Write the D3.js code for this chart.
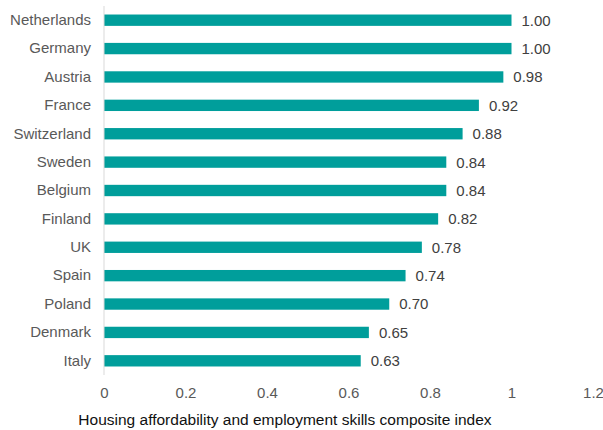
<!DOCTYPE html>
<html>
<head>
<meta charset="utf-8">
<script src="https://cdn.jsdelivr.net/npm/d3@7"></script>
<style>
  body { margin: 0; background: #fff; }
  svg { display: block; font-family: "Liberation Sans", Arial, sans-serif; }
</style>
</head>
<body>
<svg id="chart" width="603" height="430"></svg>
<script>
// Composite index by country
const countries = ["Netherlands", "Germany", "Austria", "France", "Switzerland", "Sweden",
  "Belgium", "Finland", "UK", "Spain", "Poland", "Denmark", "Italy"];
const indexValues = [1.00, 1.00, 0.98, 0.92, 0.88, 0.84, 0.84, 0.82, 0.78, 0.74, 0.70, 0.65, 0.63];
const xTicks = [0, 0.2, 0.4, 0.6, 0.8, 1, 1.2];
const xTitle = "Housing affordability and employment skills composite index";

const data = countries.map((c, i) => ({ country: c, value: indexValues[i] }));

const svg = d3.select("#chart");
const plotLeft = 104, plotRight = 593, plotTop = 6, plotBottom = 375;
const fontStack = "Liberation Sans, Arial, sans-serif";

const x = d3.scaleLinear().domain([0, 1.2]).range([plotLeft, plotRight]);
const y = d3.scaleBand().domain(countries).range([plotTop, plotBottom]).paddingInner(0.6).paddingOuter(0.3);

// bars
svg.append("g").selectAll("rect").data(data).join("rect")
  .attr("x", x(0))
  .attr("y", d => y(d.country))
  .attr("width", d => x(d.value) - x(0))
  .attr("height", y.bandwidth())
  .attr("fill", "#009e9b");

// vertical baseline
svg.append("line")
  .attr("x1", x(0)).attr("x2", x(0))
  .attr("y1", plotTop).attr("y2", plotBottom)
  .attr("stroke", "#d9d9d9").attr("stroke-width", 1);

// value labels
svg.append("g").selectAll("text").data(data).join("text")
  .attr("x", d => x(d.value) + 10)
  .attr("y", d => y(d.country) + y.bandwidth() / 2)
  .attr("dy", "0.36em")
  .attr("font-size", 15)
  .attr("font-family", fontStack)
  .attr("fill", "#404040")
  .text(d => d.value.toFixed(2));

// category axis
const yAxis = svg.append("g")
  .attr("transform", `translate(${x(0)},0)`)
  .call(d3.axisLeft(y).tickSize(0).tickPadding(13));
yAxis.select(".domain").remove();
yAxis.selectAll("text").attr("font-size", 15).attr("fill", "#595959")
  .attr("font-family", fontStack);

// value axis
const xAxis = svg.append("g")
  .attr("transform", `translate(0,${plotBottom})`)
  .call(d3.axisBottom(x).tickValues(xTicks).tickSize(0).tickPadding(12).tickFormat(d3.format("~g")));
xAxis.select(".domain").remove();
xAxis.selectAll("text").attr("font-size", 15).attr("fill", "#595959")
  .attr("font-family", fontStack);

// axis title
svg.append("text")
  .attr("x", 285)
  .attr("y", 425)
  .attr("text-anchor", "middle")
  .attr("font-size", 15.5)
  .attr("font-family", fontStack)
  .attr("fill", "#111")
  .text(xTitle);
</script>
</body>
</html>
